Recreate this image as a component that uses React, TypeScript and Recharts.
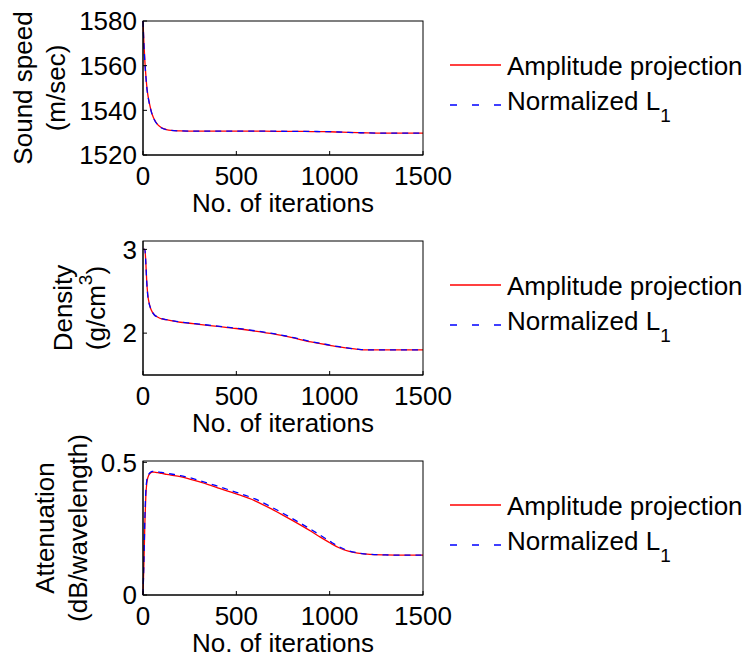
import React from 'react'
import { LineChart, Line, XAxis, YAxis, Legend } from 'recharts'

const iterations = [0, 5, 10, 15, 20, 25, 30, 40, 50, 60, 80, 100, 125, 150, 200, 250, 300, 400, 500, 600, 700, 800, 900, 950, 1000, 1050, 1100, 1150, 1200, 1300, 1400, 1500]

const soundAmp = [1580, 1570, 1562, 1556, 1551, 1547.5, 1545, 1541, 1538, 1536, 1533.5, 1532.2, 1531.4, 1531, 1530.8, 1530.7, 1530.7, 1530.7, 1530.7, 1530.7, 1530.6, 1530.6, 1530.5, 1530.45, 1530.4, 1530.25, 1530.1, 1530, 1529.9, 1529.8, 1529.8, 1529.8]
const soundL1 = [1580, 1569.5, 1561.5, 1555.5, 1550.5, 1547, 1544.7, 1540.8, 1537.9, 1535.9, 1533.4, 1532.1, 1531.4, 1531, 1530.8, 1530.7, 1530.7, 1530.7, 1530.7, 1530.7, 1530.65, 1530.6, 1530.55, 1530.5, 1530.45, 1530.3, 1530.1, 1530, 1529.9, 1529.8, 1529.8, 1529.8]

const densityAmp = [3, 3, 3, 2.85, 2.62, 2.47, 2.39, 2.3, 2.25, 2.22, 2.19, 2.17, 2.16, 2.15, 2.13, 2.118, 2.105, 2.08, 2.055, 2.025, 1.99, 1.945, 1.895, 1.875, 1.855, 1.835, 1.82, 1.807, 1.8, 1.8, 1.8, 1.8]
const densityL1 = [3, 3, 3, 2.84, 2.61, 2.46, 2.385, 2.3, 2.25, 2.22, 2.19, 2.172, 2.162, 2.152, 2.133, 2.12, 2.108, 2.083, 2.058, 2.028, 1.994, 1.95, 1.9, 1.878, 1.858, 1.838, 1.822, 1.808, 1.8, 1.8, 1.8, 1.8]

const attenAmp = [0, 0.12, 0.27, 0.37, 0.42, 0.44, 0.45, 0.46, 0.463, 0.463, 0.461, 0.458, 0.455, 0.452, 0.446, 0.437, 0.427, 0.404, 0.381, 0.355, 0.32, 0.281, 0.24, 0.218, 0.197, 0.178, 0.165, 0.158, 0.154, 0.151, 0.15, 0.15]
const attenL1 = [0, 0.13, 0.29, 0.39, 0.43, 0.45, 0.455, 0.463, 0.466, 0.466, 0.464, 0.462, 0.459, 0.456, 0.45, 0.442, 0.432, 0.41, 0.387, 0.362, 0.327, 0.288, 0.247, 0.225, 0.203, 0.182, 0.167, 0.159, 0.154, 0.151, 0.15, 0.15]

const xTicks = [0, 500, 1000, 1500]
const soundTicks = [1520, 1540, 1560, 1580]
const densityTicks = [2, 3]
const attenTicks = [0, 0.5]
const seriesNames = ['Amplitude projection', 'Normalized L_1']

const FONT = '"Liberation Sans", Arial, Helvetica, sans-serif'

// layout
const PAD = 30 // charts are taller than their slot so the long y titles are not cut
const Y_AXIS_W = 143
const RIGHT = 333
const PLOT_W = 756 - Y_AXIS_W - RIGHT

// legend rows: line y, text baseline y (relative to the legend box)
const legendRowY = [{ line: 25, text: 35 }, { line: 65, text: 70 }]

const LegendBox = ({ payload }: any) => (
  <svg width={316} height={100} style={{ display: 'block' }}>
    {(payload || []).map((p: any, i: number) => {
      const [main, sub] = String(p.value).split('_')
      const row = legendRowY[i]
      return (
        <g key={i}>
          <line x1={10} x2={61} y1={row.line} y2={row.line} stroke={p.color} strokeWidth={1.3}
            strokeDasharray={i === 1 ? '7 15' : undefined} />
          <text x={67} y={row.text} fontSize={26} fontFamily={FONT} fill="#000">
            {main}
            {sub && <tspan dy={11.5} fontSize={19}>{sub}</tspan>}
          </text>
        </g>
      )
    })}
  </svg>
)

const XTitle = (props: any) => {
  const vb = props.viewBox
  return (
    <text x={vb.x + vb.width / 2} y={vb.y + 57} textAnchor="middle" fontSize={26} fontFamily={FONT} fill="#000">
      No. of iterations
    </text>
  )
}

// y title (two rotated lines) plus the box around the axes
const makeYTitle = (lines: { x: number; text: React.ReactNode }[]) => (props: any) => {
  const vb = props.viewBox
  const cy = vb.y + vb.height / 2
  return (
    <g>
      <rect x={vb.x + vb.width} y={vb.y} width={PLOT_W} height={vb.height} fill="none" stroke="#000" strokeWidth={1} />
      {lines.map((l, i) => (
        <text key={i} x={l.x} y={cy} transform={`rotate(-90 ${l.x} ${cy})`} textAnchor="middle"
          fontSize={26} fontFamily={FONT} fill="#000">
          {l.text}
        </text>
      ))}
    </g>
  )
}

type PanelProps = {
  top: number
  amp: number[]
  l1: number[]
  domain: [number, number]
  ticks: number[]
  title: (props: any) => React.ReactElement
}

const tickStyle = { fill: '#000', fontSize: 26, fontFamily: FONT }

const Panel = ({ top, amp, l1, domain, ticks, title }: PanelProps) => {
  const rows = iterations.map((it, i) => ({ it, amp: amp[i], l1: l1[i] }))
  return (
    <div style={{ position: 'absolute', left: 0, top: top - PAD }}>
      <LineChart width={756} height={220 + PAD} data={rows} margin={{ top: 21 + PAD, right: RIGHT, bottom: 0, left: 0 }}>
        <XAxis dataKey="it" type="number" domain={[0, 1500]} ticks={xTicks} interval={0}
          height={65} tickSize={-4} tickMargin={16} stroke="#000" tick={tickStyle} label={{ content: XTitle }} />
        <YAxis type="number" domain={domain} ticks={ticks} interval={0} width={Y_AXIS_W}
          tickSize={-4} tickMargin={10} stroke="#000" tick={tickStyle} label={{ content: title }} />
        <Line type="monotone" dataKey="amp" name={seriesNames[0]} stroke="#ff0000" strokeWidth={1.3}
          dot={false} isAnimationActive={false} />
        <Line type="monotone" dataKey="l1" name={seriesNames[1]} stroke="#0000ff" strokeWidth={1.3}
          strokeDasharray="6 5" dot={false} isAnimationActive={false} />
        <Legend layout="vertical" align="center" verticalAlign="middle" content={LegendBox}
          wrapperStyle={{ left: 440, top: 40 + PAD, width: 316, height: 100 }} />
      </LineChart>
    </div>
  )
}

const soundTitle = makeYTitle([
  { x: 32, text: 'Sound speed' },
  { x: 65, text: '(m/sec)' },
])
const densityTitle = makeYTitle([
  { x: 72, text: 'Density' },
  { x: 105, text: <>(g/cm<tspan dy={-13} fontSize={19}>3</tspan><tspan dy={13}>)</tspan></> },
])
const attenTitle = makeYTitle([
  { x: 54, text: 'Attenuation' },
  { x: 87, text: '(dB/wavelength)' },
])

export default function App() {
  return (
    <div style={{ position: 'absolute', left: 0, top: 0, width: 756, height: 660, background: '#fff', overflow: 'hidden' }}>
      <Panel top={0} amp={soundAmp} l1={soundL1} domain={[1520, 1580]} ticks={soundTicks} title={soundTitle} />
      <Panel top={220} amp={densityAmp} l1={densityL1} domain={[1.5, 3.1]} ticks={densityTicks} title={densityTitle} />
      <Panel top={440} amp={attenAmp} l1={attenL1} domain={[0, 0.505]} ticks={attenTicks} title={attenTitle} />
    </div>
  )
}
